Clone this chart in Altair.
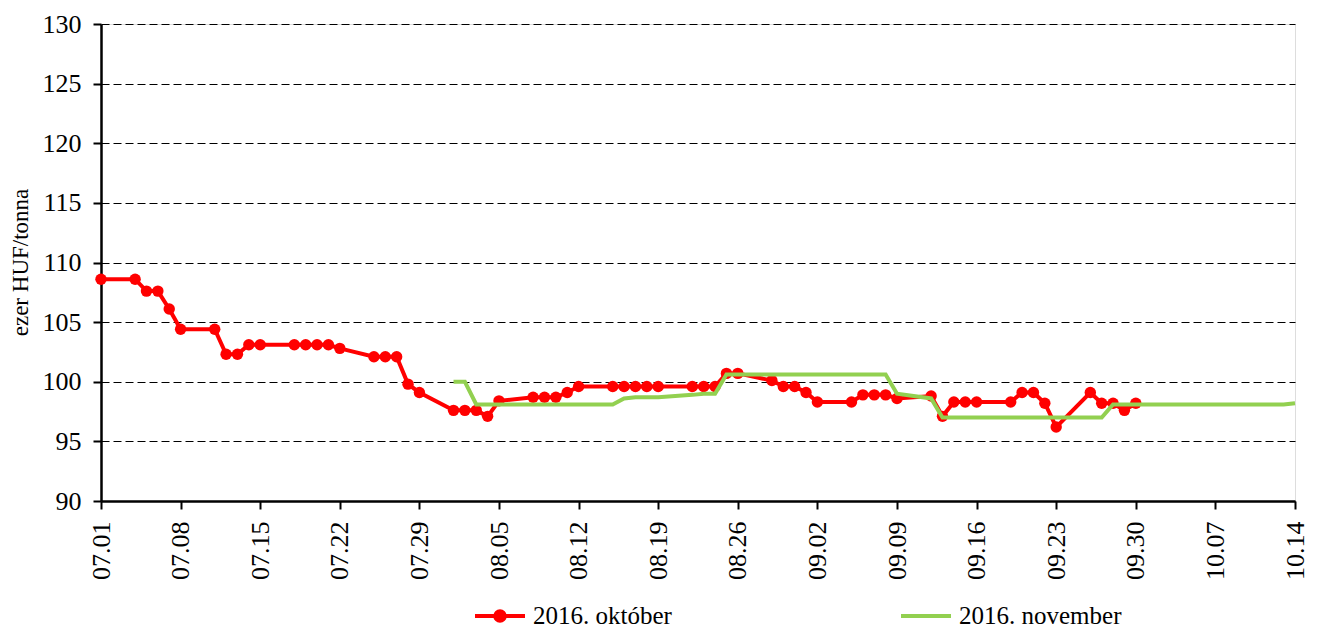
import altair as alt
import pandas as pd

# ---- data -------------------------------------------------------------
oct_dates = ["07-01", "07-04", "07-05", "07-06", "07-07", "07-08", "07-11", "07-12",
             "07-13", "07-14", "07-15", "07-18", "07-19", "07-20", "07-21", "07-22",
             "07-25", "07-26", "07-27", "07-28", "07-29", "08-01", "08-02", "08-03",
             "08-04", "08-05", "08-08", "08-09", "08-10", "08-11", "08-12", "08-15",
             "08-16", "08-17", "08-18", "08-19", "08-22", "08-23", "08-24", "08-25",
             "08-26", "08-29", "08-30", "08-31", "09-01", "09-02", "09-05", "09-06",
             "09-07", "09-08", "09-09", "09-12", "09-13", "09-14", "09-15", "09-16",
             "09-19", "09-20", "09-21", "09-22", "09-23", "09-26", "09-27", "09-28",
             "09-29", "09-30"]
oct_values = [108.6, 108.6, 107.6, 107.6, 106.1, 104.4, 104.4, 102.3,
              102.3, 103.1, 103.1, 103.1, 103.1, 103.1, 103.1, 102.8,
              102.1, 102.1, 102.1, 99.8, 99.1, 97.6, 97.6, 97.6,
              97.1, 98.4, 98.7, 98.7, 98.7, 99.1, 99.6, 99.6,
              99.6, 99.6, 99.6, 99.6, 99.6, 99.6, 99.6, 100.7,
              100.7, 100.1, 99.6, 99.6, 99.1, 98.3, 98.3, 98.9,
              98.9, 98.9, 98.6, 98.8, 97.1, 98.3, 98.3, 98.3,
              98.3, 99.1, 99.1, 98.2, 96.2, 99.1, 98.2, 98.2,
              97.6, 98.2]

nov_dates = ["08-01", "08-02", "08-03", "08-04", "08-05", "08-08", "08-09", "08-10",
             "08-11", "08-12", "08-15", "08-16", "08-17", "08-18", "08-19", "08-22",
             "08-23", "08-24", "08-25", "08-26", "08-29", "08-30", "08-31", "09-01",
             "09-02", "09-05", "09-06", "09-07", "09-08", "09-09", "09-12", "09-13",
             "09-14", "09-15", "09-16", "09-19", "09-20", "09-21", "09-22", "09-23",
             "09-26", "09-27", "09-28", "09-29", "09-30", "10-03", "10-04", "10-05",
             "10-06", "10-07", "10-10", "10-11", "10-12", "10-13", "10-14"]
nov_values = [100.0, 100.0, 98.1, 98.1, 98.1, 98.1, 98.1, 98.1,
              98.1, 98.1, 98.1, 98.6, 98.7, 98.7, 98.7, 98.9,
              99.0, 99.0, 100.6, 100.6, 100.6, 100.6, 100.6, 100.6,
              100.6, 100.6, 100.6, 100.6, 100.6, 99.0, 98.6, 97.0,
              97.0, 97.0, 97.0, 97.0, 97.0, 97.0, 97.0, 97.0,
              97.0, 97.0, 98.1, 98.1, 98.1, 98.1, 98.1, 98.1,
              98.1, 98.1, 98.1, 98.1, 98.1, 98.1, 98.2]

series_names = ["2016. október", "2016. november"]
series_colors = ["#FF0000", "#92D050"]
year = 2016

y_ticks = [90, 95, 100, 105, 110, 115, 120, 125, 130]
x_tick_labels = ["07.01", "07.08", "07.15", "07.22", "07.29", "08.05", "08.12", "08.19",
                 "08.26", "09.02", "09.09", "09.16", "09.23", "09.30", "10.07", "10.14"]
y_title = "ezer HUF/tonna"

# ---- build table ------------------------------------------------------
rows = []
for d, v in zip(oct_dates, oct_values):
    rows.append({"date": f"{year}-{d}", "value": v, "series": series_names[0]})
for d, v in zip(nov_dates, nov_values):
    rows.append({"date": f"{year}-{d}", "value": v, "series": series_names[1]})
df = pd.DataFrame(rows)


def dt(label):
    m, d = label.split(".")
    return alt.DateTime(year=year, month=int(m), date=int(d), utc=True)


x_values = [dt(t) for t in x_tick_labels]
FONT = "Liberation Serif"

x_enc = alt.X(
    "date:T",
    scale=alt.Scale(type="utc", domain=[x_values[0], x_values[-1]]),
    axis=alt.Axis(
        values=x_values, labelExpr="utcFormat(datum.value, '%m.%d')",
        labelAngle=-90, grid=False, tickSize=8, tickWidth=2, tickColor="black",
        domainColor="black", domainWidth=2.5, labelPadding=12,
        labelFont=FONT, labelFontSize=26, labelColor="black", title=None,
    ),
)
y_enc = alt.Y(
    "value:Q",
    scale=alt.Scale(domain=[y_ticks[0], y_ticks[-1]], nice=False, zero=False),
    axis=alt.Axis(
        values=y_ticks, grid=True, gridDash=[8, 4], gridColor="black", gridWidth=1,
        tickSize=8, tickWidth=2, tickColor="black", domainColor="black",
        domainWidth=2.5, labelPadding=12, labelFont=FONT, labelFontSize=26,
        labelColor="black", title=y_title, titleFont=FONT, titleFontSize=23,
        titleFontWeight="normal", titleColor="black", titleAngle=-90,
        titleX=-81, titleY=238, titleAlign="center", titleBaseline="middle",
    ),
)

# legend symbols: line with a filled circle (október), plain line (november)
circle_line_path = ("M-1,0H1M0.19,0A0.19,0.19,0,1,1,-0.19,0"
                    "A0.19,0.19,0,1,1,0.19,0Z")
plain_line_path = "M-1,0H1"

legend = alt.Legend(
    title=None, orient="none", legendX=372, legendY=565, direction="horizontal",
    symbolSize=2500, symbolStrokeWidth=4, symbolOpacity=1,
    labelFont=FONT, labelFontSize=25, labelColor="black", labelOffset=6,
    labelLimit=400, columnPadding=221, padding=0,
)

base = alt.Chart(df).encode(x=x_enc, y=y_enc)
is_oct = alt.datum.series == series_names[0]
is_nov = alt.datum.series == series_names[1]

red_line = base.transform_filter(is_oct).mark_line(
    strokeWidth=4, color=series_colors[0])
red_pts = base.transform_filter(is_oct).mark_point(
    filled=True, size=130, opacity=1, color=series_colors[0])
green_line = base.transform_filter(is_nov).mark_line(
    strokeWidth=4, color=series_colors[1])

# legend-only layer (no rows drawn), legend built from scales with fixed domain
legend_layer = base.transform_filter("false").mark_point(
    filled=True, strokeWidth=4, opacity=1
).encode(
    fill=alt.Fill("series:N", scale=alt.Scale(domain=series_names,
                  range=[series_colors[0], "transparent"]), legend=legend),
    stroke=alt.Stroke("series:N", scale=alt.Scale(domain=series_names,
                      range=series_colors), legend=legend),
    shape=alt.Shape("series:N", scale=alt.Scale(domain=series_names,
                    range=[circle_line_path, plain_line_path]), legend=legend),
)

chart = (
    alt.layer(red_line, red_pts, green_line, legend_layer)
    .properties(
        width=1194, height=477,
        autosize=alt.AutoSizeParams(type="none"),
        padding={"left": 93, "top": 16, "right": 14, "bottom": 130},
    )
    .configure_view(stroke=None)
    .configure(background="white")
)

chart.save("out.html", embed_options={"renderer": "svg", "actions": False})
